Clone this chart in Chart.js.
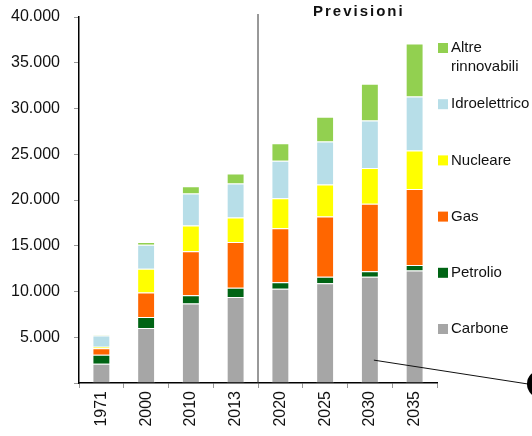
<!DOCTYPE html>
<html>
<head>
<meta charset="utf-8">
<script src="https://cdn.jsdelivr.net/npm/chart.js@4/dist/chart.umd.min.js"></script>
<style>
  html, body { margin: 0; padding: 0; background: #fff; }
  #wrap { width: 532px; height: 436px; position: relative; }
</style>
</head>
<body>
<div id="wrap"><canvas id="chart"></canvas></div>
<script>
const anni = ['1971', '2000', '2010', '2013', '2020', '2025', '2030', '2035']

const carbone = [2100, 6000, 8700, 9400, 10300, 10900, 11600, 12300]
const petrolio = [1000, 1200, 900, 1000, 700, 700, 600, 600]
const gas = [700, 2700, 4800, 5000, 5900, 6600, 7400, 8300]
const nucleare = [150, 2600, 2800, 2700, 3300, 3500, 3900, 4200]
const idroelettrico = [1250, 2600, 3500, 3700, 4100, 4700, 5200, 5900]
const altreRinnovabili = [50, 300, 800, 1100, 1900, 2700, 4000, 5800]

const FONT = '"Liberation Sans", Arial, sans-serif'

function formatta (v) {
  if (v === 0) return ''
  return String(v).replace(/\B(?=(\d{3})+(?!\d))/g, '.')
}

// legenda a destra, dall'alto in basso (ordine inverso delle serie)
const legendaPlugin = {
  id: 'legendaDestra',
  afterDraw: (chart) => {
    const { ctx, chartArea } = chart
    const x = chartArea.right + 1
    ctx.save()
    ctx.font = '15px ' + FONT
    ctx.textBaseline = 'middle'
    const items = chart.data.datasets.slice().reverse()
    items.forEach((ds, i) => {
      const y = 48 + i * 56.2
      ctx.fillStyle = ds.backgroundColor
      ctx.fillRect(x, y - 5, 10, 10)
      ctx.fillStyle = '#111'
      const righe = ds.label.split('\n')
      righe.forEach((r, j) => ctx.fillText(r, x + 13, y + j * 19))
    })
    ctx.restore()
  }
}

// linea divisoria "Previsioni" e richiamo in basso
const previsioniPlugin = {
  id: 'previsioni',
  afterDraw: (chart) => {
    const { ctx, chartArea, scales } = chart
    const xd = scales.x.getPixelForValue(3.5)
    ctx.save()
    ctx.strokeStyle = '#333'
    ctx.lineWidth = 1
    ctx.beginPath()
    ctx.moveTo(xd, chartArea.top - 3)
    ctx.lineTo(xd, chartArea.bottom)
    ctx.stroke()

    ctx.fillStyle = '#111'
    ctx.font = 'bold 15px ' + FONT
    ctx.letterSpacing = '2px'
    ctx.textBaseline = 'middle'
    ctx.fillText('Previsioni', 313, 12)
    ctx.letterSpacing = '0px'

    // richiamo
    const x0 = scales.x.getPixelForValue(6) + 4
    const y0 = scales.y.getPixelForValue(2500)
    ctx.strokeStyle = '#111'
    ctx.beginPath()
    ctx.moveTo(x0, y0)
    ctx.lineTo(528, 384)
    ctx.stroke()
    ctx.fillStyle = '#000'
    ctx.beginPath()
    ctx.arc(541, 384, 14, 0, Math.PI * 2)
    ctx.fill()
    ctx.restore()
  }
}

function serie (label, data, color) {
  return {
    label: label,
    data: data,
    backgroundColor: color,
    borderColor: 'rgba(255,255,255,0.55)',
    borderWidth: 1,
    barPercentage: 0.4,
    categoryPercentage: 1
  }
}

new Chart(document.getElementById('chart'), {
  type: 'bar',
  data: {
    labels: anni,
    datasets: [
      serie('Carbone', carbone, '#a6a6a6'),
      serie('Petrolio', petrolio, '#006414'),
      serie('Gas', gas, '#ff6600'),
      serie('Nucleare', nucleare, '#ffff00'),
      serie('Idroelettrico', idroelettrico, '#b7dee8'),
      serie('Altre\nrinnovabili', altreRinnovabili, '#92d050')
    ]
  },
  options: {
    responsive: true,
    maintainAspectRatio: false,
    animation: false,
    layout: { padding: { left: 0, right: 95, top: 17, bottom: 0 } },
    plugins: {
      legend: { display: false },
      tooltip: { enabled: false }
    },
    scales: {
      x: {
        stacked: true,
        grid: { display: true, offset: true, drawOnChartArea: false, drawTicks: true, tickLength: 5, color: '#999' },
        border: { display: true, color: '#000', width: 1.5 },
        ticks: {
          color: '#111',
          font: { family: FONT, size: 16 },
          maxRotation: 90,
          minRotation: 90,
          padding: 3
        },
        afterFit: (scale) => { scale.height = 53 }
      },
      y: {
        stacked: true,
        min: 0,
        max: 40000,
        grid: { display: true, drawOnChartArea: false, drawTicks: true, tickLength: 5, color: '#999' },
        border: { display: true, color: '#000', width: 1.5 },
        ticks: {
          stepSize: 5000,
          color: '#111',
          font: { family: FONT, size: 16 },
          padding: 14,
          callback: (v) => formatta(v)
        },
        afterFit: (scale) => {
          scale.width = 79
          scale.paddingTop = 0
          scale.paddingBottom = 0
        }
      }
    }
  },
  plugins: [legendaPlugin, previsioniPlugin]
})
</script>
</body>
</html>
